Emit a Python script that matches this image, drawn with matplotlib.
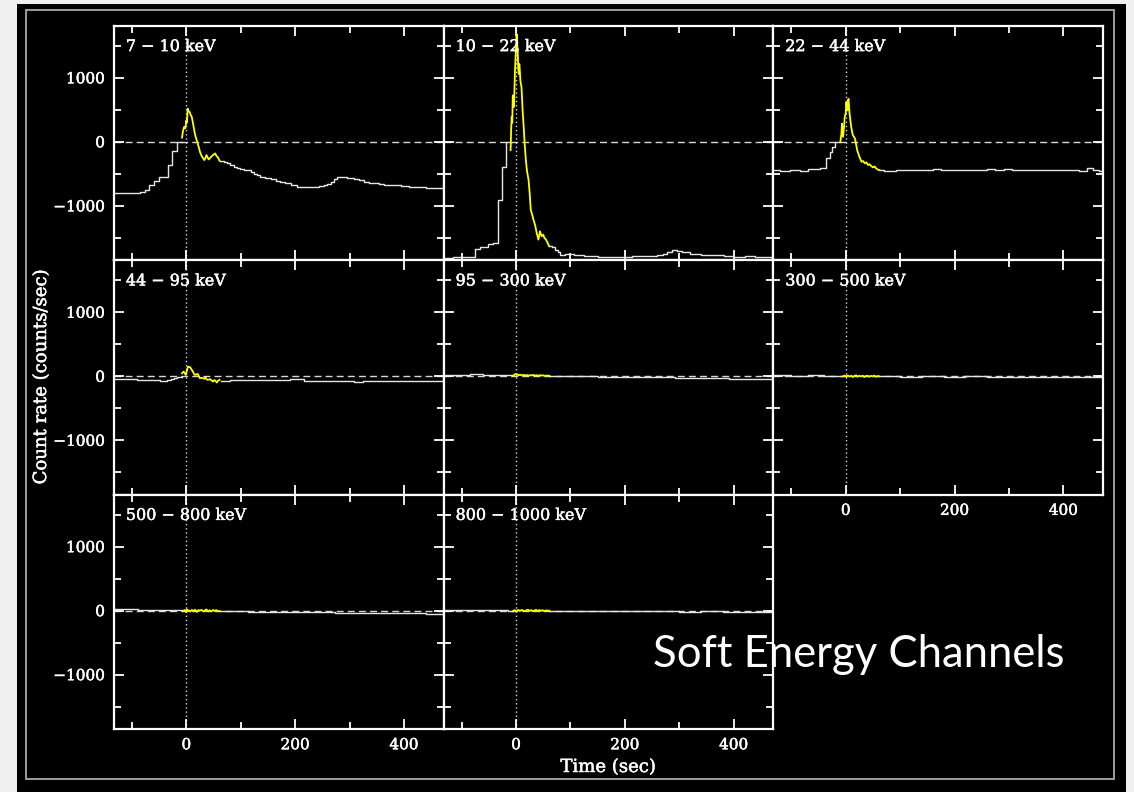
import numpy as np
import matplotlib.pyplot as plt
import matplotlib.patheffects as pe
from matplotlib.patches import Rectangle
from matplotlib.ticker import MultipleLocator

nan = np.nan

# Energy channel names (one panel each)
channels = ['7 − 10 keV', '10 − 22 keV', '22 − 44 keV', '44 − 95 keV',
            '95 − 300 keV', '300 − 500 keV', '500 − 800 keV', '800 − 1000 keV']

# Coarse light curves (white, stepped); nan marks the span covered by the fine-binned data
t_white_1 = [-133, -85, -76, -68, -60, -51, -33, -26, -18, -8,
             61, 70, 75, 81, 87, 93, 99, 106, 112, 118, 124, 130, 136, 145, 155, 164, 173, 182, 192, 204,
             220, 234, 244, 253, 259, 265, 271, 277, 287, 296, 302, 308, 318, 327, 336, 345, 354, 363, 378,
             394, 410, 425, 440, 455, 474]
r_white_1 = [-802, -787, -750, -673, -611, -554, -362, -140, -10, nan,
             -295, -320, -336, -365, -388, -405, -424, -432, -445, -470, -502, -520, -543, -565, -585, -610,
             -631, -650, -673, -699, -699, -699, -690, -675, -663, -632, -585, -554, -554, -559, -572, -585,
             -603, -621, -635, -647, -660, -673, -680, -689, -700, -709, -717, -725, -735]

t_white_2 = [-133, -115, -75, -67, -51, -42, -34, -26, -18, -10,
             61, 66, 72, 77, 81, 90, 106, 118, 125, 136, 150, 167, 184, 198, 214, 228, 242, 259, 270, 278,
             287, 296, 305, 320, 340, 360, 382, 400, 420, 440, 455, 474]
r_white_2 = [-1812, -1800, -1670, -1640, -1600, -1580, -906, -388, 0, nan,
             -1631, -1645, -1683, -1720, -1760, -1755, -1760, -1765, -1786, -1790, -1796, -1792, -1800, -1796,
             -1790, -1786, -1782, -1770, -1745, -1720, -1695, -1705, -1720, -1745, -1760, -1775, -1786, -1795,
             -1788, -1800, -1805, -1812]

t_white_3 = [-133, -120, -103, -85, -70, -48, -36, -29, -25, -20, -10,
             62, 70, 80, 92, 106, 118, 130, 145, 160, 175, 190, 205, 218, 228, 245, 260, 275, 290, 305, 320,
             335, 351, 365, 380, 395, 412, 428, 443, 455, 465, 474]
r_white_3 = [-440, -452, -446, -450, -430, -409, -259, -155, -78, 0, nan,
             -440, -448, -452, -445, -440, -446, -432, -438, -430, -436, -445, -438, -442, -440, -446, -428,
             -432, -425, -435, -440, -446, -440, -436, -432, -438, -440, -452, -414, -440, -448, -445]

t_white_4 = [-133, -110, -91, -70, -48, -35, -29, -23, -17, -8,
             63, 80, 95, 110, 124, 140, 160, 175, 190, 205, 216, 235, 250, 265, 280, 295, 308, 325, 350, 370,
             388, 410, 430, 450, 474]
r_white_4 = [-42, -48, -57, -62, -68, -55, -42, -25, -5, nan,
             -68, -62, -66, -60, -57, -60, -52, -55, -50, -47, -68, -70, -72, -68, -78, -75, -83, -78, -75,
             -70, -68, -72, -75, -80, -83]

t_white_5 = [-133, -110, -85, -60, -35, -15, -5, 61, 100, 150, 200, 250, 292, 340, 391, 430, 473]
r_white_5 = [25, 20, 28, 18, 22, 15, nan, 5, 0, -5, -8, -12, -31, -35, -47, -45, -42]

t_white_6 = [-133, -100, -70, -40, -15, -5, 61, 100, 140, 180, 220, 260, 300, 340, 380, 420, 473]
r_white_6 = [12, 10, 15, 8, 10, nan, 0, -5, 0, -8, -3, -10, -6, -12, -8, -15, -10]

t_white_7 = [-133, -110, -88, -60, -30, -5, 61, 90, 113, 150, 184, 230, 273, 310, 352, 400, 440, 473]
r_white_7 = [25, 20, 13, 8, 4, nan, -6, -12, -20, -22, -26, -28, -32, -35, -36, -40, -45, -50]

t_white_8 = [-133, -100, -70, -40, -15, -5, 61, 100, 140, 180, 220, 260, 300, 340, 380, 420, 473]
r_white_8 = [6, 4, 8, 3, 2, nan, -2, -5, -8, -10, -8, -12, -14, -12, -15, -18, -20]

# Fine-binned data around the trigger (yellow)
t_yellow_1 = [-8, -6, -4, -2, 0, 1, 2.5, 4, 6, 8, 10, 12, 15, 17, 20, 23, 25, 27, 29, 31, 33, 35,
              37, 39, 41, 44, 47, 50, 53, 55, 58, 61]
r_yellow_1 = [67, 180, 233, 210, 336, 300, 518, 480, 466, 420, 388, 300, 155, 80, 0, -90, -155, -200,
              -233, -260, -285, -250, -207, -240, -275, -250, -222, -200, -181, -215, -243, -295]

t_yellow_2 = [-10, -9, -8, -7, -6, -5, -4, -3, -2, -1, 0, 1, 2, 3, 4, 5, 6, 7, 8, 10, 12, 14, 16, 18,
              20, 23, 25, 27, 30, 32, 35, 38, 41, 44, 47, 50, 52, 55, 58, 61]
r_yellow_2 = [-130, 200, 388, 300, 725, 600, 544, 800, 1113, 1300, 1500, 1683, 1550, 1424, 1150, 1061,
              1217, 1100, 950, 854, 500, 233, -50, -285, -450, -595, -800, -1061, -1150, -1217, -1300,
              -1424, -1527, -1398, -1475, -1450, -1500, -1527, -1580, -1631]

t_yellow_3 = [-10, -8, -7, -5, -3, -2, 0, 1, 3, 4, 5, 7, 9, 10, 13, 15, 17, 19, 21, 23, 25, 27, 29,
              32, 35, 38, 41, 44, 47, 50, 53, 56, 58, 62]
r_yellow_3 = [0, 120, 285, 78, 250, 388, 450, 621, 492, 600, 673, 440, 300, 233, 104, 80, 52, -40,
              -130, -180, -233, -270, -311, -300, -336, -320, -362, -350, -380, -399, -385, -415, -430, -440]

t_yellow_4 = [-8, -5, -1, 1, 3, 5, 7, 10, 12, 14, 16, 19, 21, 23, 25, 28, 31, 33, 35, 37, 39, 42, 44,
              47, 49, 51, 53, 56, 58, 61]
r_yellow_4 = [47, 73, 21, 90, 151, 145, 140, 100, 73, 40, 21, 30, 36, 0, -31, -25, -31, -40, -16, -45,
              -57, -50, -47, -70, -83, -60, -68, -99, -70, -57]

t_yellow_5 = [-5, -3, -1, 1, 3, 5, 8, 11, 14, 17, 20, 23, 26, 29, 32, 35, 38, 41, 44, 47, 50, 53, 56, 59, 61]
r_yellow_5 = [5, 25, 35, 20, 30, 15, 25, 12, 22, 10, 20, 8, 18, 12, 22, 8, 16, 5, 18, 10, 14, 4, 12, 6, 8]

t_yellow_6 = [-5, -2, 1, 4, 7, 10, 13, 16, 19, 22, 25, 28, 31, 34, 37, 40, 43, 46, 49, 52, 55, 58, 61]
r_yellow_6 = [0, 10, -8, 12, -5, 8, -10, 5, 15, -6, 8, -4, 10, -12, 4, 9, -7, 6, -3, 10, -8, 2, 0]

t_yellow_7 = [-5, -3, -1, 1, 3, 5, 7, 10, 13, 16, 19, 22, 25, 28, 31, 34, 37, 40, 43, 46, 49, 52, 55, 58, 61]
r_yellow_7 = [-5, 10, -20, 20, -10, 5, -15, 10, -5, 15, -18, 8, 0, 12, -12, 5, 18, -8, 6, -14, 10, -3, 8, -10, -5]

t_yellow_8 = [-5, -2, 1, 4, 7, 10, 13, 16, 19, 22, 25, 28, 31, 34, 37, 40, 43, 46, 49, 52, 55, 58, 61]
r_yellow_8 = [0, 8, -10, 12, -6, 10, 2, -8, 6, 14, -4, 8, -10, 4, 12, -6, 9, -3, 7, -9, 5, -2, 0]

white_t = [t_white_1, t_white_2, t_white_3, t_white_4, t_white_5, t_white_6, t_white_7, t_white_8]
white_r = [r_white_1, r_white_2, r_white_3, r_white_4, r_white_5, r_white_6, r_white_7, r_white_8]
yellow_t = [t_yellow_1, t_yellow_2, t_yellow_3, t_yellow_4, t_yellow_5, t_yellow_6, t_yellow_7, t_yellow_8]
yellow_r = [r_yellow_1, r_yellow_2, r_yellow_3, r_yellow_4, r_yellow_5, r_yellow_6, r_yellow_7, r_yellow_8]

plt.rcParams['font.family'] = 'DejaVu Serif'
# slightly heavier strokes for the plotter-style lettering
heavy = [pe.withStroke(linewidth=0.35, foreground='white')]

W, H = 1134, 792
fig = plt.figure(figsize=(W / 100, H / 100), dpi=100, facecolor='#f0f0f0')

# black slide area and its thin frame
fig.add_artist(Rectangle((17 / W, 0), (1126 - 17) / W, 1 - 4 / H, transform=fig.transFigure,
                         facecolor='black', edgecolor='none', zorder=-5))
fig.add_artist(Rectangle((26 / W, 1 - 778.7 / H), (1113.7 - 26) / W, (778.7 - 10) / H,
                         transform=fig.transFigure, fill=False, edgecolor='#a8a8a8', lw=1.3, zorder=-4))

left0, top0 = 114, 26
pw, ph = 329.7, 234.4

for i, name in enumerate(channels):
    row, col = divmod(i, 3)
    ax = fig.add_axes([(left0 + col * pw) / W, 1 - (top0 + (row + 1) * ph) / H, pw / W, ph / H])
    ax.set_facecolor('black')

    ax.axhline(0, color='#d8d8d8', lw=1.0, dashes=(5, 3), zorder=1)
    ax.axvline(0, color='#d8d8d8', lw=1.0, dashes=(1, 2), zorder=1)
    ax.plot(np.array(white_t[i], float), np.array(white_r[i], float), drawstyle='steps-post',
            color='#e6e6e6', lw=1.0, zorder=2)
    ax.plot(yellow_t[i], yellow_r[i], color='#ffff00', lw=1.3, zorder=3)

    ax.set_xlim(-133, 473)
    ax.set_ylim(-1852, 1810)
    ax.xaxis.set_major_locator(MultipleLocator(200))
    ax.xaxis.set_minor_locator(MultipleLocator(100))
    ax.yaxis.set_major_locator(MultipleLocator(1000))
    ax.yaxis.set_minor_locator(MultipleLocator(500))

    for sp in ax.spines.values():
        sp.set_color('white')
        sp.set_linewidth(1.6)
    ax.tick_params(which='both', direction='in', top=True, right=True, color='white',
                   labelcolor='white', width=1.3, labelsize=11, pad=6.5)
    ax.tick_params(which='major', length=7)
    ax.tick_params(which='minor', length=5)
    ax.tick_params(labelleft=(col == 0), labelbottom=(i >= 5))
    plt.setp(ax.get_xticklabels() + ax.get_yticklabels(), path_effects=heavy)

    ax.text(0.036, 0.893, name, transform=ax.transAxes, color='white', fontsize=11.5,
            ha='left', va='baseline', zorder=4, path_effects=heavy)

fig.text(41 / W, 1 - 377 / H, 'Count rate (counts/sec)', rotation=90, color='white',
         fontsize=13, ha='center', va='center', path_effects=heavy)
fig.text(608 / W, 1 - 767 / H, 'Time (sec)', color='white', fontsize=13, ha='center', va='center',
         path_effects=heavy)

fig.text(652.7 / W, 1 - 666.7 / H, 'Soft Energy Channels', family='Lato',
         fontsize=31.4, color='white', ha='left', va='baseline')

fig.savefig('out.png', dpi=100, facecolor=fig.get_facecolor())
